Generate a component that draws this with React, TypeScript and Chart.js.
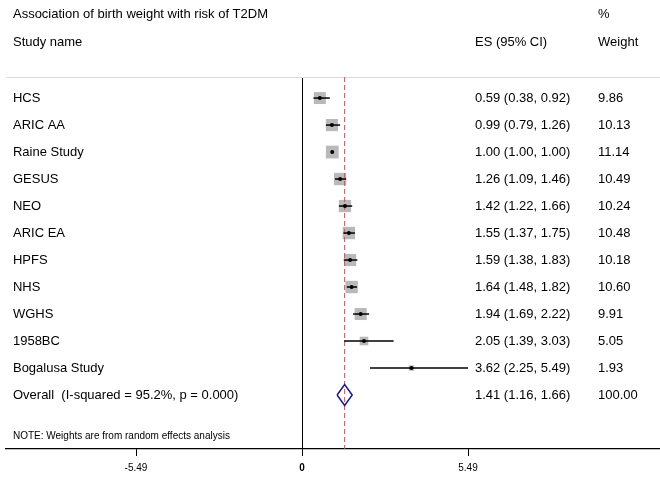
import { useEffect, useRef } from 'react';
import { Chart, registerables } from 'chart.js';

Chart.register(...registerables);

// ---- data ----
const STUDIES = ['HCS', 'ARIC AA', 'Raine Study', 'GESUS', 'NEO', 'ARIC EA', 'HPFS', 'NHS', 'WGHS', '1958BC', 'Bogalusa Study'];
const ES = [0.59, 0.99, 1.0, 1.26, 1.42, 1.55, 1.59, 1.64, 1.94, 2.05, 3.62];
const LO = [0.38, 0.79, 1.0, 1.09, 1.22, 1.37, 1.38, 1.48, 1.69, 1.39, 2.25];
const HI = [0.92, 1.26, 1.0, 1.46, 1.66, 1.75, 1.83, 1.82, 2.22, 3.03, 5.49];
const WEIGHTS = [9.86, 10.13, 11.14, 10.49, 10.24, 10.48, 10.18, 10.6, 9.91, 5.05, 1.93];
const OVERALL_LABEL = 'Overall  (I-squared = 95.2%, p = 0.000)';
const OVERALL_ES = 1.41;
const OVERALL_LO = 1.16;
const OVERALL_HI = 1.66;
const OVERALL_WEIGHT = 100.0;
const TICKS = [-5.49, 0, 5.49];
const TICK_LABELS = ['-5.49', '0', '5.49'];
const TITLE = 'Association of birth weight with risk of T2DM';
const HEAD_NAME = 'Study name';
const HEAD_ES = 'ES (95% CI)';
const HEAD_W1 = '%';
const HEAD_W2 = 'Weight';
const NOTE = 'NOTE: Weights are from random effects analysis';

// ---- layout (axis coordinates) ----
const X_MIN = -9.79;
const X_MAX = 11.84;
const Y_MIN = -0.78;
const Y_MAX = 13.0;
const COL_NAME = -9.56;
const COL_ES = 5.72;
const COL_W = 9.79;
const ROW_TITLE = -3.11;
const ROW_HEAD = -2.07;
const ROW_OVERALL = 11;
const ROW_NOTE = 12.52;
const DIAMOND_HALF = 0.39;
const BOX_K = 3.82;
const FONT = '"Liberation Sans", Arial, Helvetica, sans-serif';

export default function App() {
  const ref = useRef<HTMLCanvasElement>(null);

  useEffect(() => {
    const fmt = (v: number) => v.toFixed(2);

    const textPlugin = {
      id: 'forestText',
      beforeDatasetsDraw(chart: any) {
        const { ctx, chartArea } = chart;
        ctx.save();
        ctx.strokeStyle = '#dcdcdc';
        ctx.lineWidth = 1;
        ctx.beginPath();
        ctx.moveTo(chartArea.left, chartArea.top + 0.5);
        ctx.lineTo(chartArea.right, chartArea.top + 0.5);
        ctx.stroke();
        ctx.restore();
      },
      afterDraw(chart: any) {
        const { ctx } = chart;
        const xs = chart.scales.x;
        const ys = chart.scales.y;
        const put = (t: string, cx: number, ry: number) => {
          ctx.fillText(t, xs.getPixelForValue(cx), ys.getPixelForValue(ry) + 0.5);
        };
        ctx.save();
        ctx.fillStyle = '#000';
        ctx.textAlign = 'left';
        ctx.textBaseline = 'middle';
        ctx.font = `13px ${FONT}`;
        put(TITLE, COL_NAME, ROW_TITLE);
        put(HEAD_NAME, COL_NAME, ROW_HEAD);
        put(HEAD_ES, COL_ES, ROW_HEAD);
        put(HEAD_W1, COL_W, ROW_TITLE);
        put(HEAD_W2, COL_W, ROW_HEAD);
        STUDIES.forEach((s, i) => {
          put(s, COL_NAME, i);
          put(`${fmt(ES[i])} (${fmt(LO[i])}, ${fmt(HI[i])})`, COL_ES, i);
          put(fmt(WEIGHTS[i]), COL_W, i);
        });
        put(OVERALL_LABEL, COL_NAME, ROW_OVERALL);
        put(`${fmt(OVERALL_ES)} (${fmt(OVERALL_LO)}, ${fmt(OVERALL_HI)})`, COL_ES, ROW_OVERALL);
        put(fmt(OVERALL_WEIGHT), COL_W, ROW_OVERALL);
        ctx.font = `10px ${FONT}`;
        put(NOTE, COL_NAME, ROW_NOTE);
        ctx.restore();
      },
    };

    const ciSets = STUDIES.map((_, i) => ({
      type: 'scatter' as const,
      showLine: true,
      data: [
        { x: LO[i], y: i },
        { x: HI[i], y: i },
      ],
      borderColor: '#000',
      borderWidth: 1.5,
      pointRadius: 0,
      order: 1,
    }));

    const chart = new Chart(ref.current!, {
      type: 'scatter',
      data: {
        datasets: [
          {
            data: ES.map((v, i) => ({ x: v, y: i })),
            pointStyle: 'circle',
            pointRadius: 2,
            backgroundColor: '#000',
            borderColor: '#000',
            borderWidth: 0,
            order: 0,
          } as any,
          ...ciSets,
          {
            showLine: true,
            data: [
              { x: OVERALL_LO, y: ROW_OVERALL },
              { x: OVERALL_ES, y: ROW_OVERALL - DIAMOND_HALF },
              { x: OVERALL_HI, y: ROW_OVERALL },
              { x: OVERALL_ES, y: ROW_OVERALL + DIAMOND_HALF },
              { x: OVERALL_LO, y: ROW_OVERALL },
            ],
            borderColor: '#1a1a80',
            borderWidth: 1.5,
            pointRadius: 0,
            fill: false,
            order: 1,
          } as any,
          {
            showLine: true,
            data: [
              { x: OVERALL_ES, y: Y_MIN },
              { x: OVERALL_ES, y: Y_MAX },
            ],
            borderColor: '#c0585e',
            borderDash: [5, 3],
            borderWidth: 1,
            pointRadius: 0,
            order: 2,
          } as any,
          {
            data: ES.map((v, i) => ({ x: v, y: i })),
            pointStyle: 'rect',
            pointRadius: (c: any) => (BOX_K * Math.sqrt(WEIGHTS[c.dataIndex])) / Math.SQRT2,
            backgroundColor: '#b9b9b9',
            borderWidth: 0,
            order: 3,
          } as any,
        ],
      },
      options: {
        animation: false,
        responsive: false,
        devicePixelRatio: 1,
        layout: { autoPadding: false, padding: { left: 6, right: 0, top: 77, bottom: 0 } },
        plugins: { legend: { display: false }, tooltip: { enabled: false } },
        scales: {
          x: {
            type: 'linear',
            min: X_MIN,
            max: X_MAX,
            afterBuildTicks: (s: any) => {
              s.ticks = TICKS.map((v) => ({ value: v }));
            },
            afterFit: (s: any) => {
              s.height = 34;
              s.paddingLeft = 0;
              s.paddingRight = 0;
            },
            border: { display: true, color: '#000', width: 1.2 },
            grid: {
              drawOnChartArea: true,
              color: (c: any) => (c.tick && c.tick.value === 0 ? '#000' : 'rgba(0,0,0,0)'),
              tickColor: '#000',
              tickLength: 7,
              lineWidth: 1,
            },
            ticks: {
              autoSkip: false,
              maxRotation: 0,
              padding: 6,
              color: '#000',
              callback: (_v: any, i: number) => TICK_LABELS[i],
              font: (c: any) => ({
                family: FONT,
                size: 10,
                weight: c.tick && c.tick.value === 0 ? 'bold' : 'normal',
              }),
            },
          },
          y: { type: 'linear', display: false, reverse: true, min: Y_MIN, max: Y_MAX },
        },
      } as any,
      plugins: [textPlugin],
    });
    return () => chart.destroy();
  }, []);

  return (
    <div
      style={{
        position: 'fixed',
        left: 0,
        top: 0,
        width: 660,
        height: 483,
        overflow: 'hidden',
        background: '#fff',
      }}
    >
      <canvas
        ref={ref}
        width={660}
        height={483}
        style={{ display: 'block', width: 660, height: 483 }}
      />
    </div>
  );
}
